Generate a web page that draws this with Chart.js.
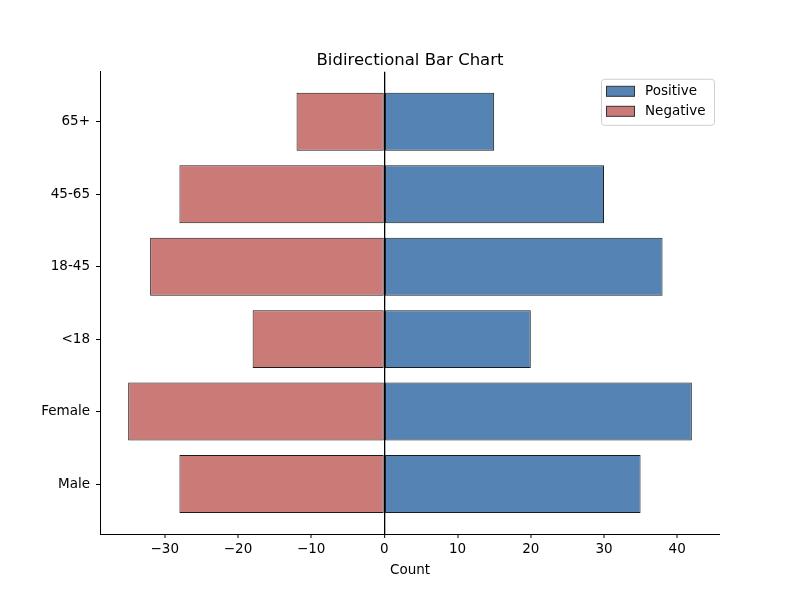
<!DOCTYPE html>
<html>
<head>
<meta charset="utf-8">
<script src="https://cdn.jsdelivr.net/npm/chart.js@4/dist/chart.umd.min.js"></script>
<style>
  html, body { margin: 0; padding: 0; background: #fff; }
  #wrap { width: 800px; height: 600px; }
</style>
</head>
<body>
<div id="wrap"><canvas id="chart" width="800" height="600"></canvas></div>
<script>
// categories bottom -> top, same order as the y positions 0..5
const categories = ['Male', 'Female', '<18', '18-45', '45-65', '65+'];
const positiveCounts = [35, 42, 20, 38, 30, 15];
const negativeCounts = [-28, -35, -18, -32, -28, -12];
const xTicks = [-30, -20, -10, 0, 10, 20, 30, 40];

const FONT = "'DejaVu Sans', sans-serif";
const blue = '#5483b4';
const red = '#ca7b78';
const edge = '#1a1a1a';

const toPoints = vals => vals.map((v, i) => ({ x: v, y: i }));

// matplotlib-ish legend box inside the axes, upper right
const boxLegend = {
  id: 'boxLegend',
  afterDraw(chart) {
    const { ctx, chartArea } = chart;
    const w = 113, h = 46;
    const x = chartArea.right - 6 - w, y = chartArea.top + 7;
    ctx.save();
    ctx.fillStyle = 'rgba(255,255,255,0.8)';
    ctx.strokeStyle = '#d0d0d0';
    ctx.lineWidth = 1;
    ctx.beginPath();
    ctx.roundRect(x + 0.5, y + 0.5, w, h, 3);
    ctx.fill();
    ctx.stroke();
    ctx.font = '13.5px ' + FONT;
    ctx.textBaseline = 'middle';
    chart.data.datasets.forEach((ds, i) => {
      const ry = y + 12 + i * 20;
      ctx.fillStyle = ds.backgroundColor;
      ctx.fillRect(x + 5.5, ry - 4.5, 28, 10);
      ctx.strokeStyle = '#333';
      ctx.strokeRect(x + 5.5, ry - 4.5, 28, 10);
      ctx.fillStyle = '#000';
      ctx.fillText(ds.label, x + 44, ry + 1);
    });
    ctx.restore();
  }
};

new Chart(document.getElementById('chart'), {
  type: 'bar',
  data: {
    datasets: [
      {
        label: 'Positive',
        data: toPoints(positiveCounts),
        backgroundColor: blue,
        borderColor: edge,
        borderWidth: 1,
        borderSkipped: false
      },
      {
        label: 'Negative',
        data: toPoints(negativeCounts),
        backgroundColor: red,
        borderColor: edge,
        borderWidth: 1,
        borderSkipped: false
      }
    ]
  },
  options: {
    responsive: false,
    animation: false,
    indexAxis: 'y',
    grouped: false,
    categoryPercentage: 0.8,
    barPercentage: 1,
    layout: { padding: { top: 0, right: 80, bottom: 0, left: 0 } },
    plugins: {
      legend: { display: false },
      tooltip: { enabled: false },
      title: {
        display: true,
        fullSize: false, // centre over the plot area, like matplotlib
        text: 'Bidirectional Bar Chart',
        color: '#000',
        font: { family: FONT, size: 16.5, weight: 'normal' },
        padding: { top: 51, bottom: 1 }
      }
    },
    scales: {
      x: {
        type: 'linear',
        min: -38.85,
        max: 45.85,
        afterFit: s => { s.height = 66; },
        afterBuildTicks: s => { s.ticks = xTicks.map(v => ({ value: v })); },
        ticks: {
          color: '#000',
          font: { family: FONT, size: 13.5 },
          padding: 3,
          maxRotation: 0,
          callback: v => (v < 0 ? '\u2212' + Math.abs(v) : String(v))
        },
        grid: {
          drawOnChartArea: true,
          color: c => (c.tick && c.tick.value === 0 ? '#000' : 'rgba(0,0,0,0)'),
          lineWidth: c => (c.tick && c.tick.value === 0 ? 1.3 : 0),
          tickColor: '#000',
          tickWidth: 1,
          tickLength: 4
        },
        border: { display: true, color: '#000', width: 1 },
        title: {
          display: true,
          text: 'Count',
          color: '#000',
          font: { family: FONT, size: 13.5 },
          padding: { top: 2, bottom: 21 }
        }
      },
      y: {
        type: 'linear',
        min: -0.69,
        max: 5.69,
        offset: false,
        afterFit: s => { s.width = 100; },
        afterBuildTicks: s => { s.ticks = categories.map((c, i) => ({ value: i })); },
        ticks: {
          color: '#000',
          font: { family: FONT, size: 13.5 },
          padding: 6,
          callback: v => categories[v]
        },
        grid: {
          offset: false,
          drawOnChartArea: false,
          tickColor: '#000',
          tickWidth: 1,
          tickLength: 4
        },
        border: { display: true, color: '#000', width: 1 }
      }
    }
  },
  plugins: [boxLegend]
});
</script>
</body>
</html>
